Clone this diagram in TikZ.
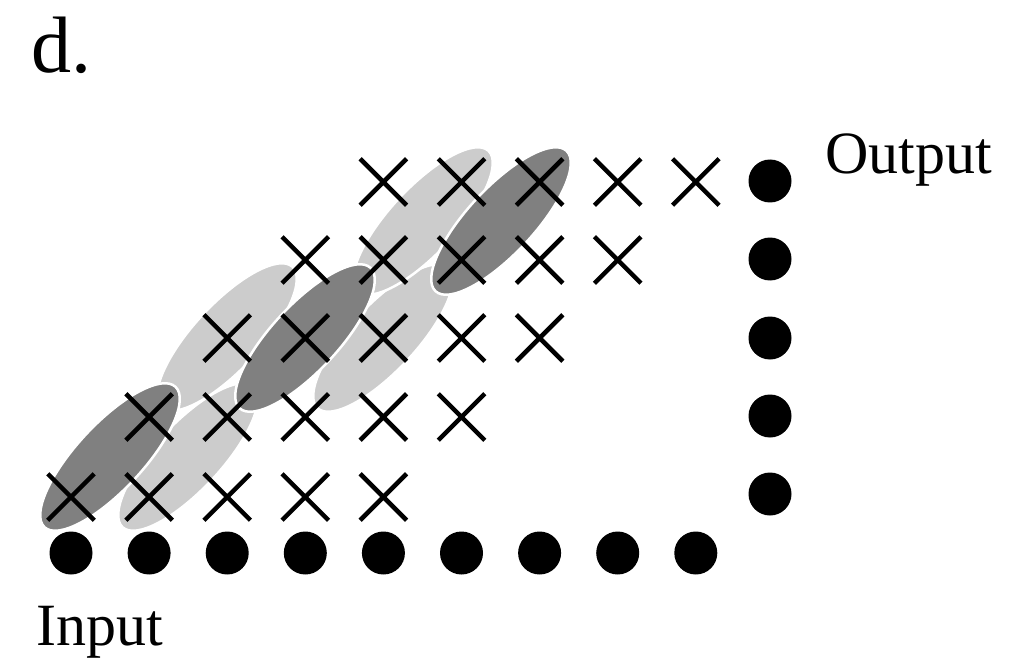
\documentclass[tikz,border=0pt]{standalone}
\usepackage{fontspec}
\setmainfont{Liberation Serif}
\usetikzlibrary{shapes.misc}
\definecolor{winlight}{HTML}{CCCCCC}
\definecolor{windark}{HTML}{808080}
\tikzset{
  xmark/.style={cross out, draw=black, line width=4.5pt, inner sep=0pt, minimum size=42pt},
  dotnode/.style={circle, fill=black, inner sep=0pt, minimum size=43pt},
  lightell/.style={fill=winlight, draw=white, line width=2.5pt},
  darkell/.style={fill=windark, draw=white, line width=2.5pt},
  lbl/.style={inner sep=0pt, anchor=base west}
}
\begin{document}
\begin{tikzpicture}[x=1pt,y=-1pt]
\useasboundingbox (0,0) rectangle (1026,666);
% light windows
\foreach \cx/\cy in {188/457, 227/337, 383/338, 423/221}{
  \filldraw[lightell, rotate around={47:(\cx,\cy)}] (\cx,\cy) ellipse [x radius=96pt, y radius=33pt];
}
% dark windows
\foreach \cx/\cy in {110/457, 305/338, 501/221}{
  \filldraw[darkell, rotate around={47:(\cx,\cy)}] (\cx,\cy) ellipse [x radius=96pt, y radius=33pt];
}
% crosses
\foreach \j/\y in {0/497, 1/417, 2/338, 3/260, 4/182}{
  \foreach \k in {0,...,4}{
    \pgfmathsetmacro{\xx}{71+78.1*(\j+\k)}
    \node[xmark] (c-\j-\k) at (\xx,\y) {};
  }
}
% input dots
\foreach \i in {0,...,8}{
  \pgfmathsetmacro{\xx}{71+78.1*\i}
  \node[dotnode] (b-\i) at (\xx,553) {};
}
% output dots
\foreach \j/\y in {0/181, 1/259, 2/338, 3/416, 4/494}{
  \node[dotnode] (r-\j) at (770,\y) {};
}
\node[lbl, font=\fontsize{80}{80}\selectfont] (title) at (31,73) {d.};
\node[lbl, font=\fontsize{60}{60}\selectfont] (out) at (825,174) {Output};
\node[lbl, font=\fontsize{60}{60}\selectfont] (in) at (36,645) {Input};
\end{tikzpicture}
\end{document}
